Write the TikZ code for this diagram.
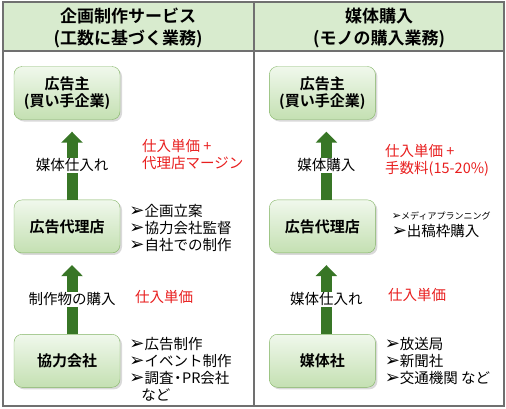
\documentclass[tikz,border=0pt]{standalone}
\usepackage{fontspec}
\setmainfont{Noto Sans CJK JP}[BoldFont={Noto Sans CJK JP Bold}]
\newfontfamily\symfont{DejaVu Sans}
\usetikzlibrary{arrows.meta,positioning,shadows}
\definecolor{hdrgreen}{RGB}{216,235,206}
\definecolor{framegray}{RGB}{112,112,112}
\definecolor{boxline}{RGB}{130,180,100}
\definecolor{boxtop}{RGB}{240,248,236}
\definecolor{boxbot}{RGB}{196,224,178}
\definecolor{arrgreen}{RGB}{56,118,38}
\definecolor{costred}{RGB}{232,30,30}
\newcommand{\bul}{{\symfont\bfseries\scalebox{1.25}{\char"27A2}}}
\tikzset{
  hdr/.style={font=\fontsize{17}{22}\selectfont\bfseries,align=center},
  orgblk/.style={draw=boxline,rounded corners=8pt,minimum width=106pt,minimum height=53pt,align=center,
    top color=boxtop,bottom color=boxbot,font=\fontsize{15}{17}\selectfont\bfseries,
    drop shadow={shadow xshift=2pt,shadow yshift=-2pt,opacity=0.3}},
  uparr/.style={line width=11pt,arrgreen,-{Triangle[width=21pt,length=11pt]},shorten >=12pt},
  flowlbl/.style={fill=white,inner sep=1pt,font=\fontsize{14.5}{17}\selectfont,text=black},
  costlbl/.style={text=costred,align=left,anchor=west,inner sep=0pt,font=\fontsize{14.5}{17}\selectfont},
  bullbl/.style={align=left,inner sep=0pt,font=\fontsize{14.5}{17}\selectfont}
}

\begin{document}
\begin{tikzpicture}[x=1pt,y=-1pt,node distance=80pt and 149pt]
  \useasboundingbox (0,0) rectangle (506,408);
  % header band and frame
  \fill[hdrgreen] (3,3) rectangle (504,51);
  \draw[framegray,line width=2pt] (3,2) rectangle (504,406);
  \draw[framegray,line width=2pt] (3,51) -- (504,51);
  \draw[framegray,line width=2pt] (254,2) -- (254,406);
  \node[hdr] (hdrL) at (128,28) {企画制作サービス\\(工数に基づく業務)};
  \node[hdr] (hdrR) at (379,28) {媒体購入\\(モノの購入業務)};

  % left column
  \node[orgblk] (advL) at (67,93) {広告主\\(買い手企業)};
  \node[orgblk, below=of advL] (agL) {広告代理店};
  \node[orgblk, below=81pt of agL] (coop) {協力会社};
  % right column
  \node[orgblk, right=of advL] (advR) {広告主\\(買い手企業)};
  \node[orgblk, below=of advR] (agR) {広告代理店};
  \node[orgblk, below=81pt of agR] (media) {媒体社};

  \draw[uparr] ([xshift=5pt]agL.north) -- ([xshift=5pt]advL.south)
    node[flowlbl, pos=0.43] (lblL1) {媒体仕入れ};
  \draw[uparr] ([xshift=5pt]coop.north) -- ([xshift=5pt]agL.south)
    node[flowlbl, pos=0.43] (lblL2) {制作物の購入};
  \draw[uparr] ([xshift=4pt]agR.north) -- ([xshift=4pt]advR.south)
    node[flowlbl, pos=0.43] (lblR1) {媒体購入};
  \draw[uparr] ([xshift=4pt]media.north) -- ([xshift=4pt]agR.south)
    node[flowlbl, pos=0.43] (lblR2) {媒体仕入れ};

  % prices
  \node[costlbl] (costL1) at (142,154) {仕入単価 +\\代理店マージン};
  \node[costlbl] (costL2) at (135,297) {仕入単価};
  \node[costlbl] (costR1) at (385,160) {仕入単価 +\\手数料(15-20\%)};
  \node[costlbl] (costR2) at (388,295) {仕入単価};

  % tasks
  \node[bullbl, right=9pt of agL, yshift=-1.5pt] (taskL1) {\bul 企画立案\\\bul 協力会社監督\\\bul 自社での制作};
  \node[bullbl, right=9pt of coop, yshift=-8pt] (taskL2) {\bul 広告制作\\\bul イベント制作\\\bul 調査\kern-3pt・\kern-3pt PR会社\\\hspace{12pt}など};
  \node[bullbl, right=16pt of agR, yshift=2pt] (taskR1) {{\fontsize{9}{11}\selectfont\bul メディアプランニング}\\\bul 出稿枠購入};
  \node[bullbl, right=9pt of media] (taskR2) {\bul 放送局\\\bul 新聞社\\\bul 交通機関 など};
\end{tikzpicture}
\end{document}
